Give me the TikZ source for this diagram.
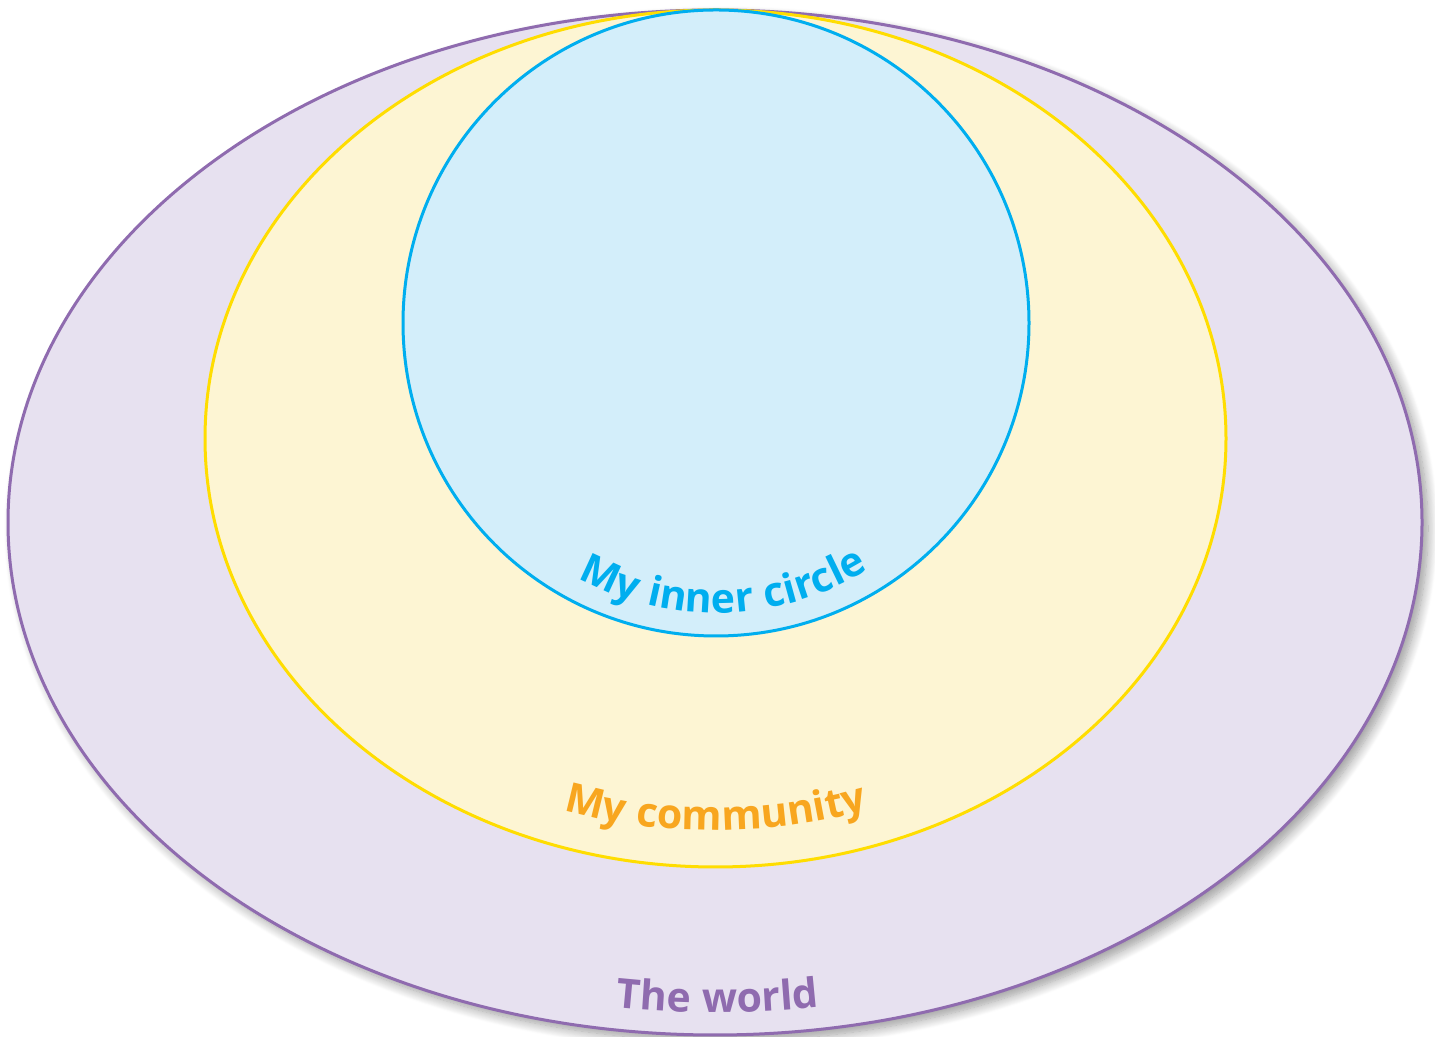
\documentclass[tikz,border=0pt]{standalone}
\usepackage{fontspec}
\newfontfamily\lblfont{Open Sans}[UprightFont=* Bold,BoldFont=* Bold,LetterSpace=3.5]
\usetikzlibrary{decorations.text,shadows.blur}
\definecolor{worldline}{HTML}{8F6BAF}
\definecolor{worldfill}{HTML}{E7E1F0}
\definecolor{commline}{HTML}{FFDD00}
\definecolor{commfill}{HTML}{FDF5D3}
\definecolor{commtext}{HTML}{F8A61F}
\definecolor{innerline}{HTML}{00AEEF}
\definecolor{innerfill}{HTML}{D3EEFA}
\newcommand\lbltext{\lblfont\fontsize{20.5}{22}\selectfont}
\begin{document}
\begin{tikzpicture}[x=0.5pt,y=0.5pt,
  ring/.style={line width=1.5pt},
  curvedlabel/.style={decorate,decoration={text along path,text align=center,#1}}]
\useasboundingbox (0,0) rectangle (1435,1037);
% outer ellipse
\path[ring,draw=worldline,fill=worldfill,blur shadow={shadow xshift=3pt,shadow yshift=-3pt,shadow blur radius=5pt,shadow blur steps=12,shadow opacity=40}]
  (715,514.5) ellipse [x radius=707,y radius=512.5];
\node[inner sep=0] (world) at (715,514.5) {};
% community
\path[ring,draw=commline,fill=commfill] (715.5,598.5) ellipse [x radius=510.5,y radius=428.5];
\node[inner sep=0] (comm) at (715.5,598.5) {};
% inner circle
\path[ring,draw=innerline,fill=innerfill] (716,714) circle [radius=313];
\node[inner sep=0] (inner) at (716,714) {};
% labels
\path[curvedlabel={text color=innerline,text={|\lbltext|My inner circle}}]
  ([shift={(181.6:290)}]inner) arc[start angle=181.6,end angle=361.6,radius=290];
\path[curvedlabel={text color=commtext,text={|\lbltext|My community}}]
  ([shift={(180:474 and 392)}]comm) arc[start angle=180,end angle=360,x radius=474,y radius=392];
\path[curvedlabel={text color=worldline,text={|\lbltext|The world}}]
  ([shift={(180.3:685 and 490)}]world) arc[start angle=180.3,end angle=360.3,x radius=685,y radius=490];
\end{tikzpicture}
\end{document}
